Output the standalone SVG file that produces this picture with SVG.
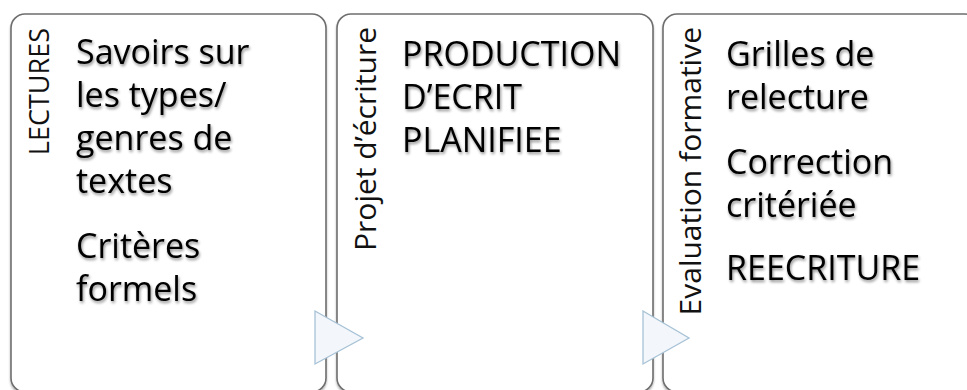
<svg xmlns="http://www.w3.org/2000/svg" width="967" height="390" viewBox="0 0 967 390">
  <style>
    .box { fill: #ffffff; stroke: #6e6e6e; stroke-width: 1.6; }
    .main { font-family: "Open Sans", "Liberation Sans", sans-serif; font-size: 34px; fill: #000000; }
    .side { font-family: "Open Sans", "Liberation Sans", sans-serif; font-size: 30px; fill: #111111; }
    .arrow { fill: #f3f7fb; stroke: #a7c2d6; stroke-width: 1.3; stroke-linejoin: miter; }
  </style>
  <defs>
    <filter id="txtShadow" x="-10%" y="-20%" width="120%" height="140%">
      <feGaussianBlur in="SourceAlpha" stdDeviation="1.5"/>
      <feOffset dx="1" dy="1.5" result="b"/>
      <feComponentTransfer><feFuncA type="linear" slope="0.45"/></feComponentTransfer>
      <feMerge><feMergeNode/><feMergeNode in="SourceGraphic"/></feMerge>
    </filter>
    <filter id="boxShadow" x="-5%" y="-5%" width="110%" height="110%">
      <feGaussianBlur in="SourceAlpha" stdDeviation="1"/>
      <feOffset dx="0" dy="1.5"/>
      <feComponentTransfer><feFuncA type="linear" slope="0.3"/></feComponentTransfer>
      <feMerge><feMergeNode/><feMergeNode in="SourceGraphic"/></feMerge>
    </filter>
  </defs>
  <rect width="967" height="390" fill="#ffffff"/>

  <g id="node-lectures">
    <rect class="box" filter="url(#boxShadow)" x="11" y="14" width="315" height="378" rx="14"/>
    <text class="side" style="font-size:27px" transform="translate(49,28) rotate(-90)" text-anchor="end">LECTURES</text>
    <g filter="url(#txtShadow)">
      <text class="main" x="76" y="64">Savoirs sur</text>
      <text class="main" x="76" y="107">les types/</text>
      <text class="main" x="76" y="150">genres de</text>
      <text class="main" x="76" y="193">textes</text>
      <text class="main" x="76" y="258">Critères</text>
      <text class="main" x="76" y="301">formels</text>
    </g>
  </g>

  <g id="node-projet">
    <rect class="box" filter="url(#boxShadow)" x="337" y="14" width="316" height="378" rx="14"/>
    <text class="side" transform="translate(376,27) rotate(-90)" text-anchor="end">Projet d’écriture</text>
    <g filter="url(#txtShadow)">
      <text class="main" x="402" y="66">PRODUCTION</text>
      <text class="main" x="402" y="109">D’ECRIT</text>
      <text class="main" x="402" y="152">PLANIFIEE</text>
    </g>
  </g>

  <g id="node-evaluation">
    <rect class="box" filter="url(#boxShadow)" x="663" y="14" width="316" height="378" rx="14"/>
    <text class="side" transform="translate(701,27) rotate(-90)" text-anchor="end">Evaluation formative</text>
    <g filter="url(#txtShadow)">
      <text class="main" x="726" y="66">Grilles de</text>
      <text class="main" x="726" y="109">relecture</text>
      <text class="main" x="726" y="174">Correction</text>
      <text class="main" x="726" y="217">critériée</text>
      <text class="main" x="726" y="280">REECRITURE</text>
    </g>
  </g>

  <g id="connectors">
    <polygon class="arrow" points="315,311 363,338 315,364"/>
    <polygon class="arrow" points="643,311 689,338 643,364"/>
  </g>
</svg>
